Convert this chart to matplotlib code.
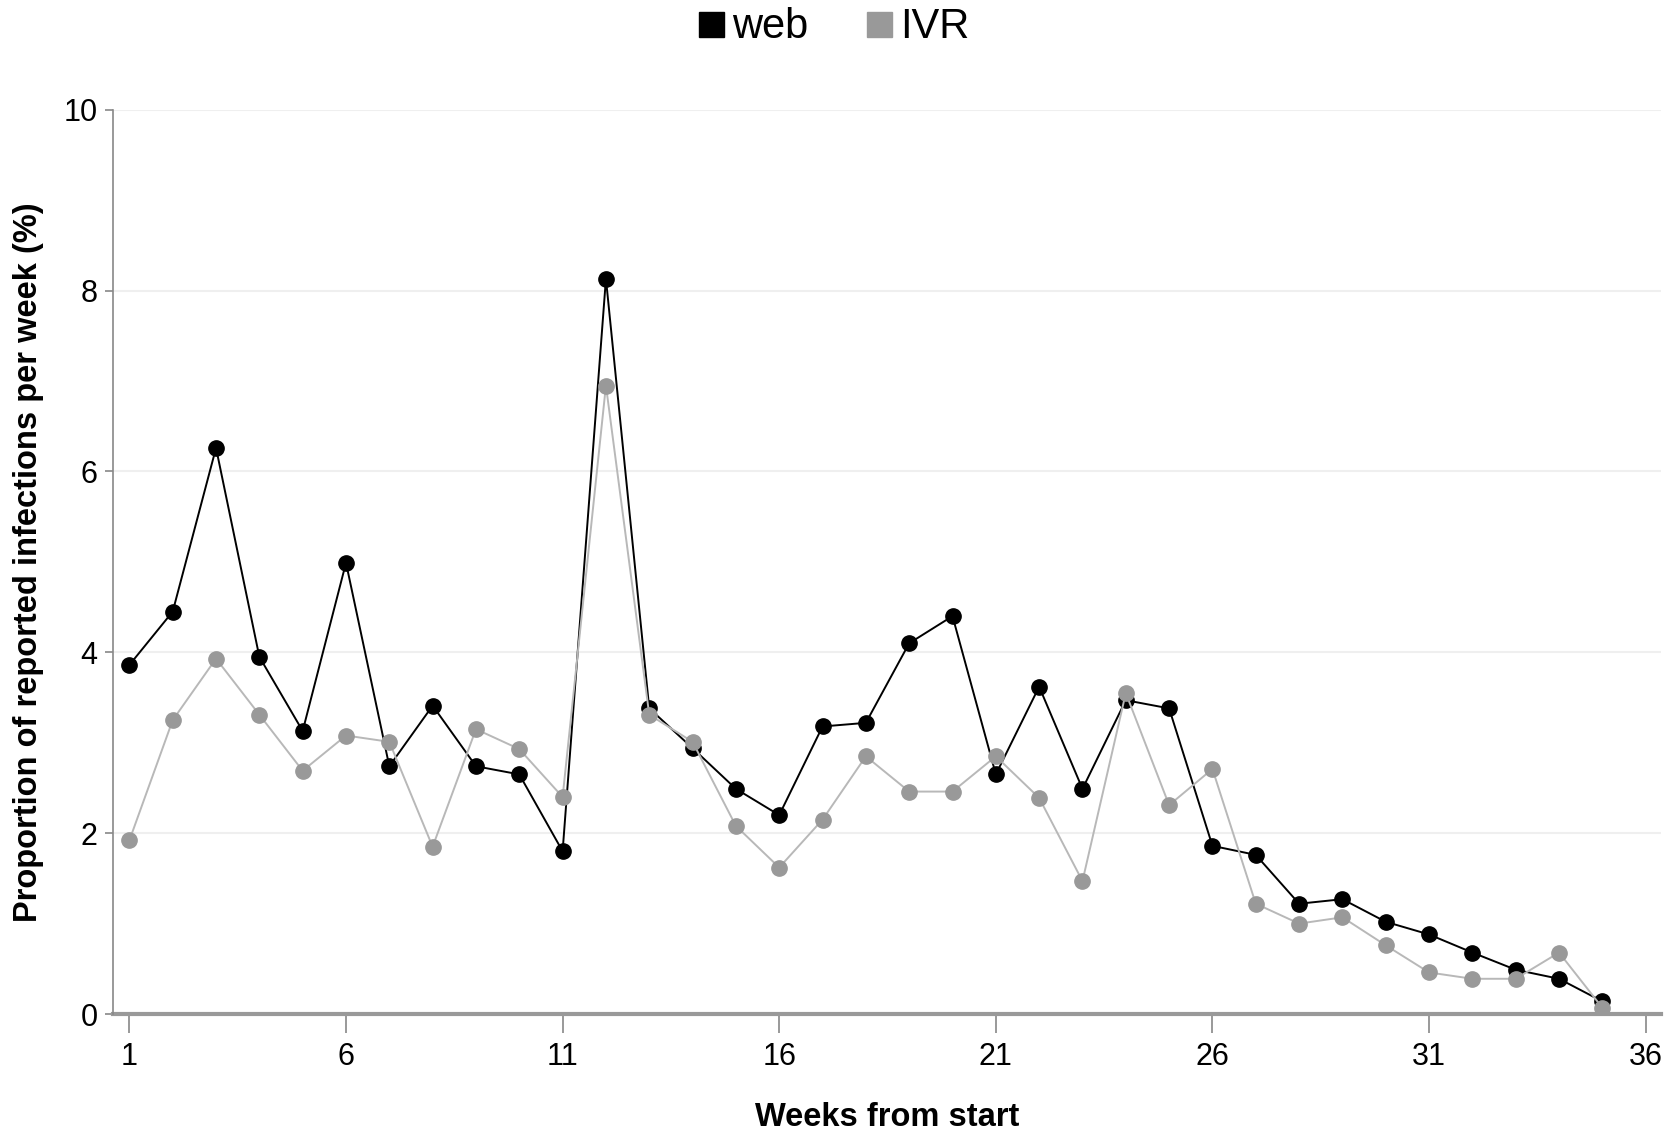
import numpy as np
import matplotlib.pyplot as plt
from matplotlib.lines import Line2D

plt.rcParams['font.family'] = ['Liberation Sans', 'DejaVu Sans']

weeks = np.arange(1, 36)
web = [3.86, 4.45, 6.26, 3.95, 3.13, 4.99, 2.74, 3.41, 2.74, 2.65,
       1.80, 8.13, 3.38, 2.94, 2.49, 2.20, 3.18, 3.22, 4.10, 4.40,
       2.65, 3.62, 2.49, 3.47, 3.38, 1.86, 1.76, 1.22, 1.27, 1.02,
       0.88, 0.68, 0.49, 0.39, 0.14]
ivr = [1.92, 3.25, 3.93, 3.31, 2.69, 3.08, 3.01, 1.85, 3.15, 2.93,
       2.40, 6.95, 3.31, 3.01, 2.08, 1.62, 2.15, 2.85, 2.46, 2.46,
       2.85, 2.39, 1.47, 3.55, 2.31, 2.71, 1.22, 1.00, 1.07, 0.76,
       0.46, 0.39, 0.39, 0.68, 0.07]
x_ticks = [1, 6, 11, 16, 21, 26, 31, 36]
y_ticks = [0, 2, 4, 6, 8, 10]

fig = plt.figure(figsize=(16.68, 11.39), dpi=100)
ax = fig.add_axes([0.0677, 0.1097, 0.928, 0.794])

ax.plot(weeks, web, color='black', lw=1.4, marker='o', ms=11,
        mfc='black', mec='black', zorder=3)
ax.plot(weeks, ivr, color='#b8b8b8', lw=1.4, marker='o', ms=11,
        mfc='#999999', mec='#999999', zorder=4)

ax.set_xlim(0.62, 36.35)
ax.set_ylim(0, 10)
ax.set_xticks(x_ticks)
ax.set_yticks(y_ticks)
ax.grid(axis='y', color='#efefef', lw=1.5)
ax.set_axisbelow(True)

for s in ['top', 'right']:
    ax.spines[s].set_visible(False)
ax.spines['left'].set_color('#888888')
ax.spines['left'].set_linewidth(1.2)
ax.spines['bottom'].set_color('#999999')
ax.spines['bottom'].set_linewidth(3)
ax.spines['bottom'].set_zorder(2)

ax.tick_params(axis='x', length=14, width=1.2, color='#888888',
               labelsize=22, pad=6)
ax.tick_params(axis='y', length=6, width=1.2, color='#888888',
               labelsize=22, pad=5)

ax.set_xlabel('Weeks from start', fontsize=23.5, fontweight='bold', labelpad=22)
ax.set_ylabel('Proportion of reported infections per week (%)', fontsize=23.5,
              fontweight='bold', labelpad=14)

handles = [Line2D([], [], ls='none', marker='s', ms=18, color='black'),
           Line2D([], [], ls='none', marker='s', ms=18, color='#999999')]
fig.legend(handles, ['web', 'IVR'], loc='center', bbox_to_anchor=(0.5, 0.976),
           ncol=2, frameon=False, fontsize=30, handletextpad=0.2,
           columnspacing=1.4, handlelength=0.6)

fig.savefig('out.png', dpi=100)
